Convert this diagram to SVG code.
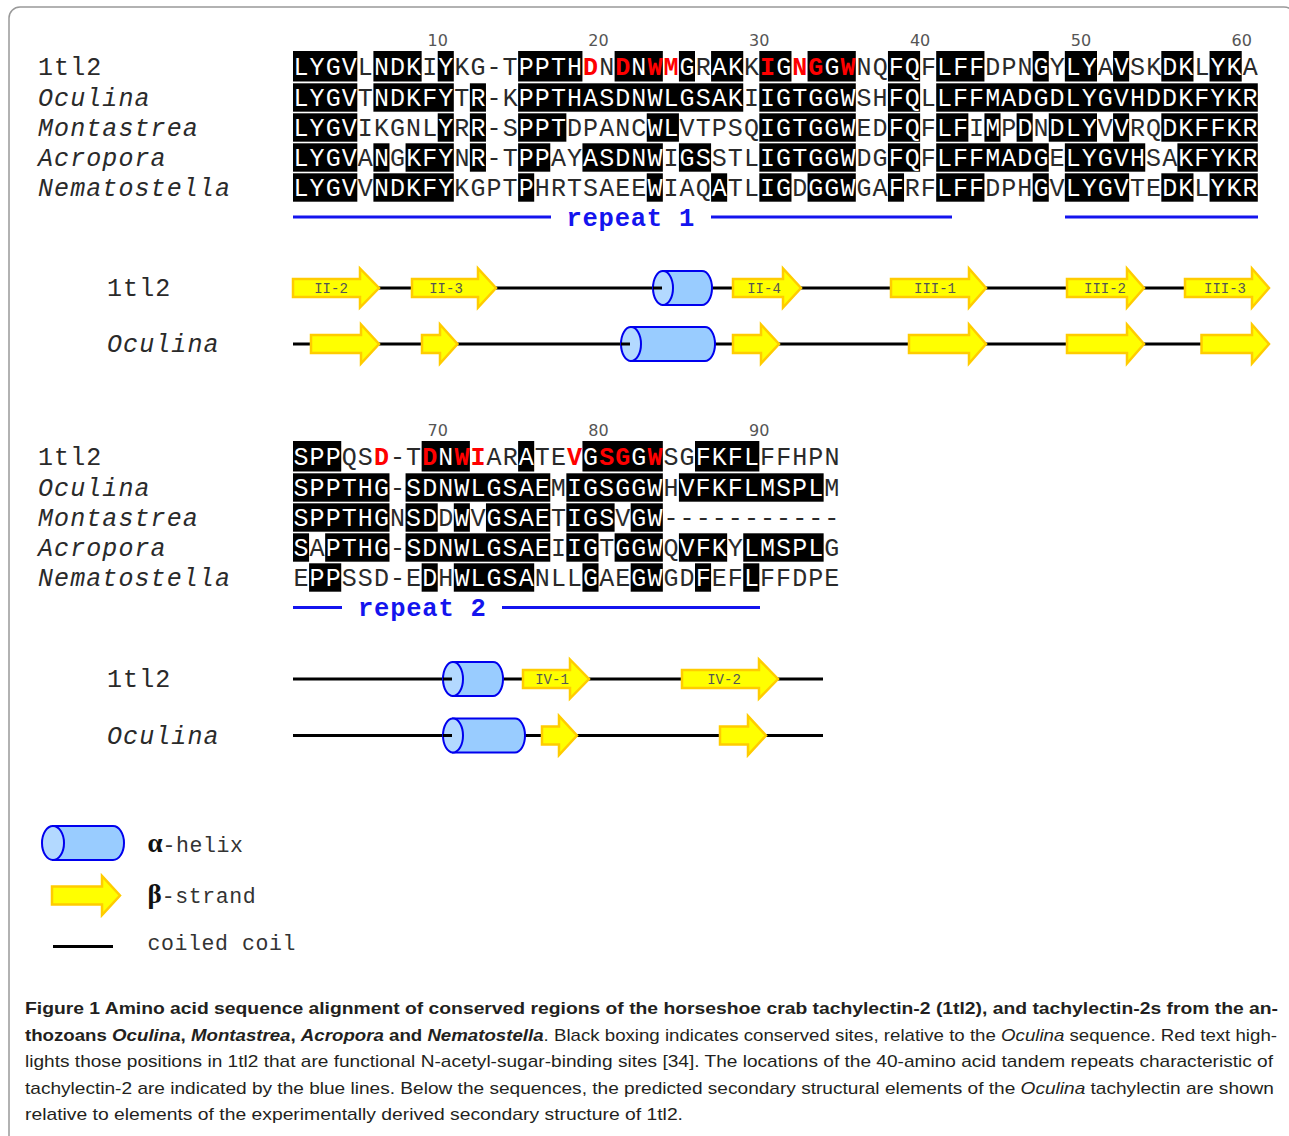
<svg xmlns="http://www.w3.org/2000/svg" width="1289" height="1136" viewBox="0 0 1289 1136">
<style>
.seq{font-family:"Liberation Mono","DejaVu Sans Mono",monospace;font-size:25px;letter-spacing:1.08px;fill:#2a2a2a}
.w{fill:#fff}
.r{fill:#f00;font-weight:bold}
.it{font-style:italic}
.num{font-family:"DejaVu Sans","Liberation Sans",sans-serif;font-size:16px;fill:#555;text-anchor:middle}
.rep{font-family:"Liberation Mono","DejaVu Sans Mono",monospace;font-size:25.5px;letter-spacing:0.78px;font-weight:bold;fill:#1414ee}
.repline{stroke:#1414ee;stroke-width:3}
.box{fill:#000}
.coil{stroke:#000;stroke-width:3}
.strand{fill:#ffff00;stroke:#ffcc00;stroke-width:2.5}
.hbody{fill:#99ccff;stroke:#0000ee;stroke-width:2}
.hcap{fill:#b3d9ff;stroke:#0000ee;stroke-width:2}
.slab{font-family:"Liberation Mono","DejaVu Sans Mono",monospace;font-size:14px;fill:#555;text-anchor:middle}
.leg{font-family:"Liberation Mono","DejaVu Sans Mono",monospace;font-size:21.5px;letter-spacing:0.6px;fill:#333}
.greek{font-family:"Liberation Serif","DejaVu Serif",serif;font-size:27px;fill:#111;font-weight:bold;letter-spacing:0}
.cap{font-family:"Liberation Sans","Open Sans",sans-serif;font-size:17px;fill:#231f20}
.b{font-weight:bold}
</style>
<rect x="9" y="7" width="1286" height="1140" rx="11" fill="#fff" stroke="#999" stroke-width="1.5"/>

<g id="alignment1">
<g id="numbers1">
<text class="num" x="437.7" y="46">10</text><text class="num" x="598.5" y="46">20</text><text class="num" x="759.3" y="46">30</text><text class="num" x="920.1" y="46">40</text><text class="num" x="1080.9" y="46">50</text><text class="num" x="1241.7" y="46">60</text>
</g>
<g id="boxes1">
<g transform="translate(0,51)">
<rect class="box" x="293" y="0" width="64.32" height="30.5"/><rect class="box" x="373.4" y="0" width="48.24" height="30.5"/><rect class="box" x="437.72" y="0" width="16.08" height="30.5"/><rect class="box" x="518.12" y="0" width="64.32" height="30.5"/><rect class="box" x="614.6" y="0" width="48.24" height="30.5"/><rect class="box" x="678.92" y="0" width="16.08" height="30.5"/><rect class="box" x="711.08" y="0" width="32.16" height="30.5"/><rect class="box" x="759.32" y="0" width="32.16" height="30.5"/><rect class="box" x="807.56" y="0" width="48.24" height="30.5"/><rect class="box" x="887.96" y="0" width="32.16" height="30.5"/><rect class="box" x="936.2" y="0" width="48.24" height="30.5"/><rect class="box" x="1032.68" y="0" width="16.08" height="30.5"/><rect class="box" x="1064.84" y="0" width="32.16" height="30.5"/><rect class="box" x="1113.08" y="0" width="16.08" height="30.5"/><rect class="box" x="1161.32" y="0" width="32.16" height="30.5"/><rect class="box" x="1209.56" y="0" width="32.16" height="30.5"/>
</g>
<g transform="translate(0,83.3)">
<rect class="box" x="293" y="0" width="64.32" height="28.4"/><rect class="box" x="373.4" y="0" width="80.4" height="28.4"/><rect class="box" x="469.88" y="0" width="16.08" height="28.4"/><rect class="box" x="518.12" y="0" width="225.12" height="28.4"/><rect class="box" x="759.32" y="0" width="96.48" height="28.4"/><rect class="box" x="887.96" y="0" width="32.16" height="28.4"/><rect class="box" x="936.2" y="0" width="321.6" height="28.4"/>
</g>
<g transform="translate(0,113.3)">
<rect class="box" x="293" y="0" width="64.32" height="28.4"/><rect class="box" x="437.72" y="0" width="16.08" height="28.4"/><rect class="box" x="469.88" y="0" width="16.08" height="28.4"/><rect class="box" x="518.12" y="0" width="48.24" height="28.4"/><rect class="box" x="646.76" y="0" width="32.16" height="28.4"/><rect class="box" x="759.32" y="0" width="96.48" height="28.4"/><rect class="box" x="887.96" y="0" width="32.16" height="28.4"/><rect class="box" x="936.2" y="0" width="32.16" height="28.4"/><rect class="box" x="984.44" y="0" width="16.08" height="28.4"/><rect class="box" x="1016.6" y="0" width="16.08" height="28.4"/><rect class="box" x="1048.76" y="0" width="48.24" height="28.4"/><rect class="box" x="1113.08" y="0" width="16.08" height="28.4"/><rect class="box" x="1161.32" y="0" width="96.48" height="28.4"/>
</g>
<g transform="translate(0,143.3)">
<rect class="box" x="293" y="0" width="64.32" height="28.4"/><rect class="box" x="373.4" y="0" width="16.08" height="28.4"/><rect class="box" x="405.56" y="0" width="48.24" height="28.4"/><rect class="box" x="469.88" y="0" width="16.08" height="28.4"/><rect class="box" x="518.12" y="0" width="32.16" height="28.4"/><rect class="box" x="582.44" y="0" width="80.4" height="28.4"/><rect class="box" x="678.92" y="0" width="32.16" height="28.4"/><rect class="box" x="759.32" y="0" width="96.48" height="28.4"/><rect class="box" x="887.96" y="0" width="32.16" height="28.4"/><rect class="box" x="936.2" y="0" width="112.56" height="28.4"/><rect class="box" x="1064.84" y="0" width="80.4" height="28.4"/><rect class="box" x="1177.4" y="0" width="80.4" height="28.4"/>
</g>
<g transform="translate(0,173.3)">
<rect class="box" x="293" y="0" width="64.32" height="28.4"/><rect class="box" x="373.4" y="0" width="80.4" height="28.4"/><rect class="box" x="518.12" y="0" width="16.08" height="28.4"/><rect class="box" x="646.76" y="0" width="16.08" height="28.4"/><rect class="box" x="711.08" y="0" width="16.08" height="28.4"/><rect class="box" x="759.32" y="0" width="32.16" height="28.4"/><rect class="box" x="807.56" y="0" width="48.24" height="28.4"/><rect class="box" x="887.96" y="0" width="16.08" height="28.4"/><rect class="box" x="936.2" y="0" width="48.24" height="28.4"/><rect class="box" x="1032.68" y="0" width="16.08" height="28.4"/><rect class="box" x="1064.84" y="0" width="64.32" height="28.4"/><rect class="box" x="1161.32" y="0" width="32.16" height="28.4"/><rect class="box" x="1209.56" y="0" width="48.24" height="28.4"/>
</g>
</g>
<g id="labels1">
<text class="seq" x="38" y="75">1tl2</text>
<text class="seq it" x="38" y="106">Oculina</text>
<text class="seq it" x="38" y="136">Montastrea</text>
<text class="seq it" x="38" y="166">Acropora</text>
<text class="seq it" x="38" y="196">Nematostella</text>
</g>
<g id="seqs1">
<text class="seq" x="293.5" y="75"><tspan class="w">LYGV</tspan>L<tspan class="w">NDK</tspan>I<tspan class="w">Y</tspan>KG-T<tspan class="w">PPTH</tspan><tspan class="r">D</tspan>N<tspan class="r">D</tspan><tspan class="w">N</tspan><tspan class="r">WM</tspan><tspan class="w">G</tspan>R<tspan class="w">AK</tspan>K<tspan class="r">I</tspan><tspan class="w">G</tspan><tspan class="r">NG</tspan><tspan class="w">G</tspan><tspan class="r">W</tspan>NQ<tspan class="w">FQ</tspan>F<tspan class="w">LFF</tspan>DPN<tspan class="w">G</tspan>Y<tspan class="w">LY</tspan>A<tspan class="w">V</tspan>SK<tspan class="w">DK</tspan>L<tspan class="w">YK</tspan>A</text>
<text class="seq" x="293.5" y="106"><tspan class="w">LYGV</tspan>T<tspan class="w">NDKFY</tspan>T<tspan class="w">R</tspan>-K<tspan class="w">PPTHASDNWLGSAK</tspan>I<tspan class="w">IGTGGW</tspan>SH<tspan class="w">FQ</tspan>L<tspan class="w">LFFMADGDLYGVHDDKFYKR</tspan></text>
<text class="seq" x="293.5" y="136"><tspan class="w">LYGV</tspan>IKGNL<tspan class="w">Y</tspan>R<tspan class="w">R</tspan>-S<tspan class="w">PPT</tspan>DPANC<tspan class="w">WL</tspan>VTPSQ<tspan class="w">IGTGGW</tspan>ED<tspan class="w">FQ</tspan>F<tspan class="w">LF</tspan>I<tspan class="w">M</tspan>P<tspan class="w">D</tspan>N<tspan class="w">DLY</tspan>V<tspan class="w">V</tspan>RQ<tspan class="w">DKFFKR</tspan></text>
<text class="seq" x="293.5" y="166"><tspan class="w">LYGV</tspan>A<tspan class="w">N</tspan>G<tspan class="w">KFY</tspan>N<tspan class="w">R</tspan>-T<tspan class="w">PP</tspan>AY<tspan class="w">ASDNW</tspan>I<tspan class="w">GS</tspan>STL<tspan class="w">IGTGGW</tspan>DG<tspan class="w">FQ</tspan>F<tspan class="w">LFFMADG</tspan>E<tspan class="w">LYGVH</tspan>SA<tspan class="w">KFYKR</tspan></text>
<text class="seq" x="293.5" y="196"><tspan class="w">LYGV</tspan>V<tspan class="w">NDKFY</tspan>KGPT<tspan class="w">P</tspan>HRTSAEE<tspan class="w">W</tspan>IAQ<tspan class="w">A</tspan>TL<tspan class="w">IG</tspan>D<tspan class="w">GGW</tspan>GA<tspan class="w">F</tspan>RF<tspan class="w">LFF</tspan>DPH<tspan class="w">G</tspan>V<tspan class="w">LYGV</tspan>TE<tspan class="w">DK</tspan>L<tspan class="w">YKR</tspan></text>
</g>
<g id="repeat1">
<line class="repline" x1="293" y1="217" x2="551" y2="217"/>
<text class="rep" x="566.4" y="225.5">repeat 1</text>
<line class="repline" x1="711" y1="217" x2="952" y2="217"/>
<line class="repline" x1="1065" y1="217" x2="1258" y2="217"/>
</g>
</g>

<g id="structure1">
<text class="seq" x="107" y="296">1tl2</text>
<text class="seq it" x="107" y="352">Oculina</text>
<g id="coils1">
<line class="coil" x1="292" y1="288" x2="1268" y2="288"/>
<line class="coil" x1="293" y1="344" x2="1268" y2="344"/>
</g>
<g id="ss1-1tl2">
<polygon class="strand" points="293,279 360,279 360,268.5 379,288 360,307.5 360,297 293,297"/>
<polygon class="strand" points="412,279 478,279 478,268.5 496,288 478,307.5 478,297 412,297"/>
<path class="hbody" d="M663,271 H702 A10,17 0 0 1 702,305 H663 Z"/>
<ellipse class="hcap" cx="663" cy="288" rx="10" ry="17"/>
<line class="coil" x1="653" y1="288" x2="662" y2="288"/>
<polygon class="strand" points="733,279 783,279 783,268.5 801,288 783,307.5 783,297 733,297"/>
<polygon class="strand" points="891,279 969,279 969,268.5 986,288 969,307.5 969,297 891,297"/>
<polygon class="strand" points="1067,279 1127,279 1127,268.5 1144,288 1127,307.5 1127,297 1067,297"/>
<polygon class="strand" points="1185,279 1252,279 1252,268.5 1269,288 1252,307.5 1252,297 1185,297"/>
<text class="slab" x="331" y="293">II-2</text>
<text class="slab" x="446" y="293">II-3</text>
<text class="slab" x="764" y="293">II-4</text>
<text class="slab" x="935" y="293">III-1</text>
<text class="slab" x="1105" y="293">III-2</text>
<text class="slab" x="1225" y="293">III-3</text>
</g>
<g id="ss1-oculina">
<polygon class="strand" points="311,335 361,335 361,324.5 379,344 361,363.5 361,353 311,353"/>
<polygon class="strand" points="422,335 440,335 440,324.5 457.5,344 440,363.5 440,353 422,353"/>
<path class="hbody" d="M631,327 H705 A10,17 0 0 1 705,361 H631 Z"/>
<ellipse class="hcap" cx="631" cy="344" rx="10" ry="17"/>
<line class="coil" x1="621" y1="344" x2="630" y2="344"/>
<polygon class="strand" points="733,335 761,335 761,324.5 779,344 761,363.5 761,353 733,353"/>
<polygon class="strand" points="909,335 969,335 969,324.5 986,344 969,363.5 969,353 909,353"/>
<polygon class="strand" points="1067,335 1127,335 1127,324.5 1144,344 1127,363.5 1127,353 1067,353"/>
<polygon class="strand" points="1201.5,335 1252,335 1252,324.5 1269,344 1252,363.5 1252,353 1201.5,353"/>
</g>
</g>

<g id="alignment2">
<g id="numbers2">
<text class="num" x="437.7" y="436">70</text><text class="num" x="598.5" y="436">80</text><text class="num" x="759.3" y="436">90</text>
</g>
<g id="boxes2">
<g transform="translate(0,441)">
<rect class="box" x="293" y="0" width="48.24" height="30.5"/><rect class="box" x="421.64" y="0" width="48.24" height="30.5"/><rect class="box" x="518.12" y="0" width="16.08" height="30.5"/><rect class="box" x="582.44" y="0" width="80.4" height="30.5"/><rect class="box" x="695" y="0" width="64.32" height="30.5"/>
</g>
<g transform="translate(0,473.3)">
<rect class="box" x="293" y="0" width="96.48" height="28.4"/><rect class="box" x="405.56" y="0" width="144.72" height="28.4"/><rect class="box" x="566.36" y="0" width="96.48" height="28.4"/><rect class="box" x="678.92" y="0" width="144.72" height="28.4"/>
</g>
<g transform="translate(0,503.3)">
<rect class="box" x="293" y="0" width="96.48" height="28.4"/><rect class="box" x="405.56" y="0" width="32.16" height="28.4"/><rect class="box" x="453.8" y="0" width="16.08" height="28.4"/><rect class="box" x="485.96" y="0" width="64.32" height="28.4"/><rect class="box" x="566.36" y="0" width="48.24" height="28.4"/><rect class="box" x="630.68" y="0" width="32.16" height="28.4"/>
</g>
<g transform="translate(0,533.3)">
<rect class="box" x="293" y="0" width="16.08" height="28.4"/><rect class="box" x="325.16" y="0" width="64.32" height="28.4"/><rect class="box" x="405.56" y="0" width="144.72" height="28.4"/><rect class="box" x="566.36" y="0" width="32.16" height="28.4"/><rect class="box" x="614.6" y="0" width="48.24" height="28.4"/><rect class="box" x="678.92" y="0" width="48.24" height="28.4"/><rect class="box" x="743.24" y="0" width="80.4" height="28.4"/>
</g>
<g transform="translate(0,563.3)">
<rect class="box" x="309.08" y="0" width="32.16" height="28.4"/><rect class="box" x="421.64" y="0" width="16.08" height="28.4"/><rect class="box" x="453.8" y="0" width="80.4" height="28.4"/><rect class="box" x="582.44" y="0" width="16.08" height="28.4"/><rect class="box" x="630.68" y="0" width="32.16" height="28.4"/><rect class="box" x="695" y="0" width="16.08" height="28.4"/><rect class="box" x="743.24" y="0" width="16.08" height="28.4"/>
</g>
</g>
<g id="labels2">
<text class="seq" x="38" y="465">1tl2</text>
<text class="seq it" x="38" y="496">Oculina</text>
<text class="seq it" x="38" y="526">Montastrea</text>
<text class="seq it" x="38" y="556">Acropora</text>
<text class="seq it" x="38" y="586">Nematostella</text>
</g>
<g id="seqs2">
<text class="seq" x="293.5" y="465"><tspan class="w">SPP</tspan>QS<tspan class="r">D</tspan>-T<tspan class="r">D</tspan><tspan class="w">N</tspan><tspan class="r">WI</tspan>AR<tspan class="w">A</tspan>TE<tspan class="r">V</tspan><tspan class="w">G</tspan><tspan class="r">SG</tspan><tspan class="w">G</tspan><tspan class="r">W</tspan>SG<tspan class="w">FKFL</tspan>FFHPN</text>
<text class="seq" x="293.5" y="496"><tspan class="w">SPPTHG</tspan>-<tspan class="w">SDNWLGSAE</tspan>M<tspan class="w">IGSGGW</tspan>H<tspan class="w">VFKFLMSPL</tspan>M</text>
<text class="seq" x="293.5" y="526"><tspan class="w">SPPTHG</tspan>N<tspan class="w">SD</tspan>D<tspan class="w">W</tspan>V<tspan class="w">GSAE</tspan>T<tspan class="w">IGS</tspan>V<tspan class="w">GW</tspan>-----------</text>
<text class="seq" x="293.5" y="556"><tspan class="w">S</tspan>A<tspan class="w">PTHG</tspan>-<tspan class="w">SDNWLGSAE</tspan>I<tspan class="w">IG</tspan>T<tspan class="w">GGW</tspan>Q<tspan class="w">VFK</tspan>Y<tspan class="w">LMSPL</tspan>G</text>
<text class="seq" x="293.5" y="586">E<tspan class="w">PP</tspan>SSD-E<tspan class="w">D</tspan>H<tspan class="w">WLGSA</tspan>NLL<tspan class="w">G</tspan>AE<tspan class="w">GW</tspan>GD<tspan class="w">F</tspan>EF<tspan class="w">L</tspan>FFDPE</text>
</g>
<g id="repeat2">
<line class="repline" x1="293" y1="607.5" x2="342" y2="607.5"/>
<text class="rep" x="358" y="616">repeat 2</text>
<line class="repline" x1="502" y1="607.5" x2="760" y2="607.5"/>
</g>
</g>

<g id="structure2">
<text class="seq" x="107" y="687">1tl2</text>
<text class="seq it" x="107" y="743.5">Oculina</text>
<g id="coils2">
<line class="coil" x1="293" y1="679" x2="823" y2="679"/>
<line class="coil" x1="293" y1="735.5" x2="823" y2="735.5"/>
</g>
<g id="ss2-1tl2">
<path class="hbody" d="M453,662 H493 A10,17 0 0 1 493,696 H453 Z"/>
<ellipse class="hcap" cx="453" cy="679" rx="10" ry="17"/>
<line class="coil" x1="443" y1="679" x2="452" y2="679"/>
<polygon class="strand" points="523,670 570,670 570,659.5 589,679 570,698.5 570,688 523,688"/>
<polygon class="strand" points="682,670 759,670 759,659.5 778,679 759,698.5 759,688 682,688"/>
<text class="slab" x="552" y="684">IV-1</text>
<text class="slab" x="724" y="684">IV-2</text>
</g>
<g id="ss2-oculina">
<path class="hbody" d="M453,718.5 H515 A10,17 0 0 1 515,752.5 H453 Z"/>
<ellipse class="hcap" cx="453" cy="735.5" rx="10" ry="17"/>
<line class="coil" x1="443" y1="735.5" x2="452" y2="735.5"/>
<polygon class="strand" points="542,726.5 559,726.5 559,716 577,735.5 559,755 559,744.5 542,744.5"/>
<polygon class="strand" points="720,726.5 748,726.5 748,716 766,735.5 748,755 748,744.5 720,744.5"/>
</g>
</g>

<g id="legend">
<g id="leg-helix">
<path class="hbody" d="M53,826 H113 A11,17 0 0 1 113,860 H53 Z"/>
<ellipse class="hcap" cx="53" cy="843" rx="11" ry="17"/>
<text class="leg" x="147.5" y="852"><tspan class="greek">α</tspan>-helix</text>
</g>
<g id="leg-strand">
<polygon class="strand" points="52,886.5 102,886.5 102,876 120,895.5 102,915 102,904.5 52,904.5"/>
<text class="leg" x="147.5" y="903"><tspan class="greek">β</tspan>-strand</text>
</g>
<g id="leg-coil">
<line class="coil" x1="53" y1="946.5" x2="113" y2="946.5"/>
<text class="leg" x="147.5" y="950">coiled coil</text>
</g>
</g>

<g id="caption">
<text class="cap b" x="25" y="1014" font-size="16.6" textLength="1253" lengthAdjust="spacingAndGlyphs">Figure 1 Amino acid sequence alignment of conserved regions of the horseshoe crab tachylectin-2 (1tl2), and tachylectin-2s from the an-</text>
<text class="cap" x="25" y="1040.5" textLength="1252" lengthAdjust="spacingAndGlyphs"><tspan class="b">thozoans </tspan><tspan class="b it">Oculina</tspan><tspan class="b">, </tspan><tspan class="b it">Montastrea</tspan><tspan class="b">, </tspan><tspan class="b it">Acropora</tspan><tspan class="b"> and </tspan><tspan class="b it">Nematostella</tspan>. Black boxing indicates conserved sites, relative to the <tspan class="it">Oculina</tspan> sequence. Red text high-</text>
<text class="cap" x="25" y="1067" textLength="1248" lengthAdjust="spacingAndGlyphs">lights those positions in 1tl2 that are functional N-acetyl-sugar-binding sites [34]. The locations of the 40-amino acid tandem repeats characteristic of</text>
<text class="cap" x="25" y="1093.5" textLength="1249" lengthAdjust="spacingAndGlyphs">tachylectin-2 are indicated by the blue lines. Below the sequences, the predicted secondary structural elements of the <tspan class="it">Oculina</tspan> tachylectin are shown</text>
<text class="cap" x="25" y="1120" textLength="658" lengthAdjust="spacingAndGlyphs">relative to elements of the experimentally derived secondary structure of 1tl2.</text>
</g>
</svg>
